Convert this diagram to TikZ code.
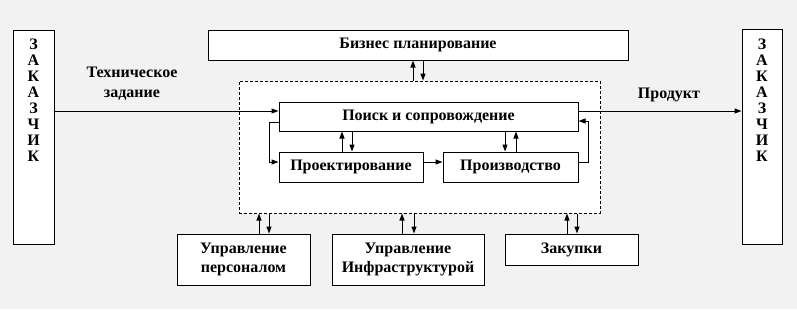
\documentclass[tikz,border=0pt]{standalone}
\usepackage{fontspec}
\setmainfont{Liberation Serif}
\usepackage{tikz}
\usetikzlibrary{arrows.meta, positioning, calc}
\definecolor{bgpage}{RGB}{242,242,242}
\definecolor{mydark}{RGB}{0,0,0}
\tikzset{
  box/.style={rectangle, draw=mydark, fill=white, line width=1pt,
    align=center, inner sep=0pt,
    font=\fontsize{16}{19}\selectfont\bfseries},
  custbox/.style={box, minimum width=41pt, minimum height=214pt,
    font=\fontsize{16}{16}\selectfont\bfseries},
  dashbox/.style={rectangle, draw=mydark, fill=white, line width=1pt,
    dash pattern=on 3pt off 2pt},
  lbl/.style={align=center, font=\fontsize{16}{20}\selectfont\bfseries},
  arr/.style={-{Triangle[length=7pt,width=5pt]}, line width=1pt, color=mydark}
}

\begin{document}
\begin{tikzpicture}[x=1pt, y=-1pt]
  % ── page ───────────────────────────────────────────────────────────────────
  \fill[bgpage] (0,0) rectangle (797,309);
  \useasboundingbox (0,0) rectangle (797,309);

  % ── customers ──────────────────────────────────────────────────────────────
  \node[custbox] (zl) at (33.5,137) {};
  \node[custbox, minimum width=40pt, minimum height=215pt] (zr) at (762,136.5) {};
  \node[anchor=north, font=\fontsize{16}{16}\selectfont\bfseries, align=center]
    (zlt) at (zl.north |- 0,35) {З\\А\\К\\А\\З\\Ч\\И\\К};
  \node[anchor=north, font=\fontsize{16}{16}\selectfont\bfseries, align=center]
    (zrt) at (zr.north |- 0,35) {З\\А\\К\\А\\З\\Ч\\И\\К};

  % ── enterprise ─────────────────────────────────────────────────────────────
  \node[box, minimum width=420pt, minimum height=30pt] (bp) at (418,45) {Бизнес планирование};
  \node[dashbox, minimum width=361pt, minimum height=132pt] (dash) at (419.5,147) {};
  \node[box, minimum width=299pt, minimum height=29pt] (ps) at (428.5,116.5) {Поиск и сопровождение};
  \node[box, minimum width=144pt, minimum height=30pt] (pr) at (351,167) {Проектирование};
  \node[box, minimum width=135pt, minimum height=30pt] (pv) at (510.5,167) {Производство};

  % ── support ────────────────────────────────────────────────────────────────
  \node[box, minimum width=133pt, minimum height=51pt] (upr) at (243.5,259.5) {Управление\\персоналом};
  \node[box, minimum width=152pt, minimum height=51pt] (uin) at (408,259.5) {Управление\\Инфраструктурой};
  \node[box, minimum width=133pt, minimum height=31pt] (zak) at (571.5,249.5) {Закупки};

  % ── labels ─────────────────────────────────────────────────────────────────
  \node[lbl] (tz) at (132,84) {Техническое\\задание};
  \node[lbl] (prod) at (669,95) {Продукт};

  % ── flows ──────────────────────────────────────────────────────────────────
  \coordinate (inY) at (0,111);
  \draw[arr] (zl.east |- inY) -- (ps.west |- inY);
  \draw[arr] (ps.east |- inY) -- (zr.west |- inY);

  \coordinate (lpA) at (269,122);
  \coordinate (lpB) at (269,162);
  \draw[arr] (ps.west |- lpA) -- (lpA) -- (lpB) -- (pr.west |- lpB);
  \draw[arr] (pr.east |- lpB) -- (pv.west |- lpB);

  \coordinate (rpA) at (588,162);
  \coordinate (rpB) at (588,121);
  \draw[arr] (pv.east |- rpA) -- (rpA) -- (rpB) -- (ps.east |- rpB);

  % paired arrows
  \foreach \x/\a/\b in {342/pr.north/ps.south, 352/ps.south/pr.north,
                        505/ps.south/pv.north, 516/pv.north/ps.south,
                        413/dash.north/bp.south, 423/bp.south/dash.north,
                        259/upr.north/dash.south, 269/dash.south/upr.north,
                        402/uin.north/dash.south, 414/dash.south/uin.north,
                        567/zak.north/dash.south, 577/dash.south/zak.north} {
    \coordinate (k) at (\x,0);
    \draw[arr] (\a -| k) -- (\b -| k);
  }
\end{tikzpicture}
\end{document}
